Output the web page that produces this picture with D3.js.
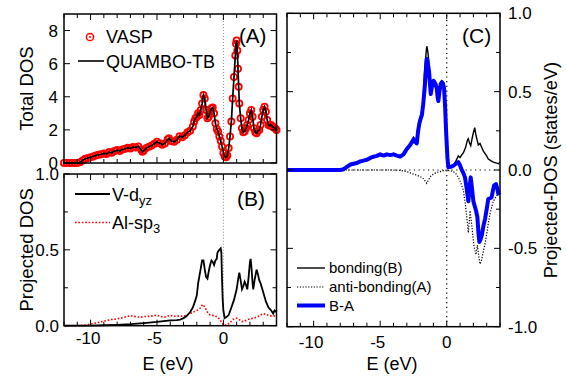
<!DOCTYPE html>
<html><head><meta charset="utf-8">
<script src="https://cdn.jsdelivr.net/npm/d3@7"></script>
<style>
body{margin:0;background:#fff;}
svg text{font-family:"Liberation Sans",Arial,sans-serif;fill:#000;}
</style></head>
<body><svg id="c" width="567" height="378"></svg>
<script>
// ---------- data ----------
const eDomain = [-12, 4];
const xTickLabels = [-10, -5, 0];
const totalTicks = [0, 2, 4, 6, 8];
const pdosTicks = [0.0, 0.5, 1.0];
const cTicks = [-1.0, -0.5, 0.0, 0.5, 1.0];

const totalDOS = [[-12,0],[-11.8,0],[-11.6,0],[-11.4,0],[-11.2,0],[-11.0,0],[-10.8,0.04],[-10.6,0.15],[-10.4,0.25],[-10.2,0.3],[-10.0,0.35],[-9.8,0.4],[-9.6,0.45],[-9.4,0.5],[-9.2,0.53],[-9.0,0.58],[-8.8,0.55],[-8.6,0.66],[-8.4,0.62],[-8.2,0.72],[-8.0,0.78],[-7.8,0.72],[-7.6,0.82],[-7.4,0.86],[-7.2,0.92],[-7.0,0.88],[-6.8,0.96],[-6.6,0.94],[-6.4,1.0],[-6.2,0.82],[-6.1,0.68],[-6.0,0.74],[-5.8,0.9],[-5.6,0.98],[-5.4,1.06],[-5.2,1.16],[-5.0,1.28],[-4.8,1.2],[-4.6,1.1],[-4.4,1.18],[-4.2,1.42],[-4.1,1.49],[-3.9,1.32],[-3.7,1.28],[-3.5,1.4],[-3.3,1.62],[-3.1,1.55],[-2.9,1.68],[-2.7,1.85],[-2.5,1.95],[-2.3,2.2],[-2.2,2.5],[-2.1,2.7],[-2.0,2.8],[-1.9,3.0],[-1.8,2.9],[-1.7,3.2],[-1.6,3.6],[-1.5,4.1],[-1.4,3.9],[-1.3,3.2],[-1.2,2.7],[-1.1,2.8],[-1.0,3.1],[-0.9,3.3],[-0.8,3.35],[-0.7,3.0],[-0.6,2.4],[-0.5,2.05],[-0.4,1.9],[-0.3,1.6],[-0.2,1.35],[-0.1,1.0],[0.0,0.6],[0.1,0.4],[0.2,0.34],[0.3,0.45],[0.4,0.9],[0.5,1.6],[0.6,2.5],[0.7,3.9],[0.8,5.2],[0.9,6.5],[0.95,7.2],[1.0,7.4],[1.05,6.8],[1.1,5.7],[1.15,4.6],[1.2,3.6],[1.3,2.7],[1.4,2.1],[1.5,1.85],[1.6,1.9],[1.7,2.1],[1.8,2.3],[1.9,2.6],[2.0,3.0],[2.1,3.2],[2.2,2.8],[2.3,2.1],[2.4,1.85],[2.5,1.8],[2.6,1.95],[2.7,2.0],[2.8,2.3],[2.9,2.8],[3.0,3.2],[3.1,3.4],[3.2,3.1],[3.3,2.6],[3.4,2.3],[3.5,2.25],[3.6,2.3],[3.7,2.2],[3.8,2.15],[3.9,2.1],[4.0,2.0]];

const vDyz = [[-12,0],[-10,0],[-9,0.003],[-8,0.006],[-7,0.01],[-6,0.017],[-5,0.025],[-4.5,0.03],[-4,0.035],[-3.5,0.037],[-3.25,0.04],[-3.0,0.05],[-2.75,0.065],[-2.5,0.09],[-2.3,0.12],[-2.1,0.17],[-2.0,0.2],[-1.9,0.28],[-1.8,0.33],[-1.7,0.38],[-1.6,0.43],[-1.5,0.43],[-1.4,0.37],[-1.3,0.32],[-1.2,0.31],[-1.1,0.36],[-1.0,0.40],[-0.9,0.43],[-0.8,0.42],[-0.7,0.40],[-0.6,0.43],[-0.5,0.44],[-0.45,0.48],[-0.4,0.49],[-0.3,0.50],[-0.2,0.51],[-0.15,0.48],[-0.1,0.3],[-0.05,0.17],[0.0,0.1],[0.1,0.05],[0.2,0.055],[0.4,0.07],[0.6,0.12],[0.8,0.17],[1.0,0.24],[1.1,0.3],[1.2,0.35],[1.3,0.3],[1.4,0.24],[1.5,0.26],[1.6,0.29],[1.7,0.27],[1.8,0.24],[1.9,0.32],[2.0,0.42],[2.05,0.44],[2.1,0.4],[2.2,0.28],[2.25,0.24],[2.35,0.3],[2.5,0.37],[2.6,0.34],[2.7,0.3],[2.8,0.28],[3.0,0.22],[3.2,0.16],[3.4,0.12],[3.6,0.1],[3.75,0.08],[3.85,0.1],[4.0,0.09]];

const alSp3 = [[-12,0],[-11,0],[-10.5,0.003],[-10,0.01],[-9.5,0.02],[-9,0.03],[-8.5,0.04],[-8,0.045],[-7.5,0.055],[-7,0.066],[-6.6,0.06],[-6.3,0.055],[-6,0.06],[-5.5,0.062],[-5,0.07],[-4.7,0.06],[-4.5,0.055],[-4.2,0.062],[-4,0.068],[-3.7,0.062],[-3.3,0.064],[-3,0.062],[-2.5,0.08],[-2.0,0.10],[-1.75,0.115],[-1.55,0.14],[-1.35,0.115],[-1.2,0.09],[-1.0,0.07],[-0.6,0.065],[-0.3,0.045],[-0.1,0.02],[0,0.005],[0.3,0.005],[0.5,0.02],[0.7,0.04],[1.0,0.05],[1.2,0.04],[1.4,0.027],[1.6,0.03],[1.8,0.04],[2.0,0.045],[2.3,0.05],[2.6,0.06],[2.8,0.07],[3.0,0.08],[3.2,0.075],[3.5,0.065],[4,0.065]];

const bonding = [[-12,0],[-8,0],[-7.75,0.003],[-7.5,0.015],[-7.25,0.027],[-7,0.035],[-6.75,0.04],[-6.5,0.05],[-6.25,0.055],[-6,0.06],[-5.75,0.07],[-5.5,0.08],[-5.25,0.09],[-5.0,0.1],[-4.75,0.09],[-4.5,0.105],[-4.25,0.1],[-4.0,0.105],[-3.75,0.095],[-3.5,0.09],[-3.25,0.1],[-3.0,0.125],[-2.75,0.155],[-2.6,0.18],[-2.5,0.21],[-2.4,0.2],[-2.3,0.19],[-2.15,0.28],[-2.05,0.325],[-1.95,0.35],[-1.85,0.37],[-1.75,0.5],[-1.65,0.65],[-1.55,0.75],[-1.5,0.79],[-1.43,0.76],[-1.35,0.7],[-1.28,0.6],[-1.2,0.5],[-1.1,0.55],[-1.0,0.57],[-0.92,0.56],[-0.85,0.54],[-0.75,0.52],[-0.63,0.485],[-0.5,0.54],[-0.37,0.57],[-0.25,0.56],[-0.18,0.54],[-0.1,0.4],[0.0,0.25],[0.08,0.08],[0.12,0.017],[0.3,0.02],[0.5,0.03],[0.7,0.06],[0.87,0.09],[1.0,0.08],[1.25,0.11],[1.4,0.14],[1.55,0.19],[1.62,0.2],[1.72,0.17],[1.8,0.155],[1.95,0.22],[2.1,0.27],[2.2,0.22],[2.37,0.16],[2.5,0.17],[2.75,0.12],[3.0,0.09],[3.12,0.07],[3.3,0.06],[3.5,0.05],[3.7,0.045],[3.87,0.04],[4,0.05]];

const antiBonding = [[-12,0],[-4,0],[-3.5,-0.002],[-3,-0.01],[-2.5,-0.026],[-2.2,-0.035],[-1.87,-0.047],[-1.7,-0.06],[-1.5,-0.085],[-1.35,-0.06],[-1.2,-0.04],[-1.0,-0.026],[-0.75,-0.015],[-0.5,-0.01],[-0.25,-0.005],[0,0],[0.5,-0.01],[0.7,-0.025],[0.87,-0.047],[1.05,-0.08],[1.25,-0.13],[1.4,-0.22],[1.5,-0.30],[1.62,-0.40],[1.7,-0.32],[1.75,-0.26],[1.85,-0.33],[1.95,-0.41],[2.05,-0.49],[2.2,-0.54],[2.3,-0.48],[2.4,-0.55],[2.5,-0.60],[2.6,-0.58],[2.7,-0.54],[2.85,-0.48],[3.0,-0.41],[3.12,-0.34],[3.25,-0.28],[3.4,-0.23],[3.5,-0.20],[3.7,-0.17],[3.87,-0.15],[4,-0.13]];

const bMinusA = [[-12,0],[-8,0],[-7.75,0.005],[-7.5,0.02],[-7.25,0.035],[-7,0.04],[-6.75,0.045],[-6.5,0.055],[-6.25,0.06],[-6,0.065],[-5.75,0.077],[-5.5,0.085],[-5.25,0.09],[-5.0,0.1],[-4.75,0.092],[-4.5,0.1],[-4.25,0.095],[-4,0.1],[-3.75,0.092],[-3.5,0.085],[-3.25,0.1],[-3.0,0.134],[-2.75,0.16],[-2.6,0.18],[-2.5,0.195],[-2.4,0.18],[-2.25,0.17],[-2.15,0.25],[-2.05,0.3],[-1.95,0.33],[-1.87,0.35],[-1.77,0.42],[-1.67,0.51],[-1.58,0.62],[-1.5,0.71],[-1.42,0.68],[-1.33,0.63],[-1.25,0.54],[-1.2,0.485],[-1.1,0.54],[-1.0,0.57],[-0.92,0.56],[-0.85,0.55],[-0.75,0.52],[-0.68,0.46],[-0.63,0.44],[-0.55,0.5],[-0.45,0.55],[-0.37,0.56],[-0.28,0.55],[-0.2,0.52],[-0.12,0.4],[-0.05,0.25],[0.05,0.08],[0.12,0.017],[0.3,0.02],[0.5,0.027],[0.7,0.04],[0.87,0.05],[1.0,0.03],[1.1,0.006],[1.25,-0.02],[1.37,-0.047],[1.5,-0.12],[1.62,-0.2],[1.7,-0.12],[1.8,-0.047],[1.9,-0.12],[2.0,-0.2],[2.1,-0.23],[2.2,-0.26],[2.3,-0.3],[2.38,-0.4],[2.45,-0.46],[2.55,-0.44],[2.65,-0.41],[2.75,-0.36],[2.88,-0.31],[3.0,-0.25],[3.12,-0.185],[3.25,-0.18],[3.37,-0.175],[3.47,-0.13],[3.55,-0.1],[3.7,-0.09],[3.8,-0.12],[3.87,-0.15],[4,-0.14]];

// ---------- drawing ----------
const svg = d3.select("#c");
const TICK = 17;

function frame(g, x, y, yMajor, yMinor) {
  const [x0, x1] = x.range(), [y0, y1] = y.range(); // y0 bottom
  const e1 = d3.range(eDomain[0], eDomain[1] + 0.001, 1);
  const tk = g.append("g").attr("stroke", "#000").attr("stroke-width", 1);
  e1.forEach(v => {
    const L = (v % 5 === 0) ? 6 : 4;
    tk.append("line").attr("x1", x(v)).attr("x2", x(v)).attr("y1", y0).attr("y2", y0 - L);
    tk.append("line").attr("x1", x(v)).attr("x2", x(v)).attr("y1", y1).attr("y2", y1 + L);
  });
  yMajor.concat(yMinor).forEach(v => {
    const L = yMajor.includes(v) ? 6 : 4;
    tk.append("line").attr("x1", x0).attr("x2", x0 + L).attr("y1", y(v)).attr("y2", y(v));
    tk.append("line").attr("x1", x1).attr("x2", x1 - L).attr("y1", y(v)).attr("y2", y(v));
  });
  g.append("rect").attr("x", x0).attr("y", y1).attr("width", x1 - x0).attr("height", y0 - y1)
    .attr("fill", "none").attr("stroke", "#000").attr("stroke-width", 1.5);
}

function lineGen(x, y) {
  return d3.line().x(d => x(d[0])).y(d => y(d[1]));
}

// Panel A
const xA = d3.scaleLinear().domain(eDomain).range([64, 276.5]);
const yA = d3.scaleLinear().domain([0, 9]).range([163, 14]);
const gA = svg.append("g");
gA.append("line").attr("x1", xA(0)).attr("x2", xA(0)).attr("y1", yA(0)).attr("y2", yA(9))
  .attr("stroke", "#888").attr("stroke-width", 1).attr("stroke-dasharray", "1,2");
gA.append("g").selectAll("circle").data(totalDOS).join("circle")
  .attr("cx", d => xA(d[0])).attr("cy", d => yA(d[1])).attr("r", 3.1)
  .attr("fill", "none").attr("stroke", "#ff0000").attr("stroke-width", 1.8);
gA.append("path").datum(totalDOS).attr("d", lineGen(xA, yA)).attr("fill", "none")
  .attr("stroke", "#000").attr("stroke-width", 1.7);
frame(gA, xA, yA, [0, 2, 4, 6, 8], []);
totalTicks.forEach(v => gA.append("text").attr("x", 58).attr("y", yA(v)).attr("dy", "0.35em")
  .attr("text-anchor", "end").attr("font-size", TICK).text(v));
gA.append("text").attr("transform", `translate(33,${(14 + 163) / 2}) rotate(-90)`)
  .attr("text-anchor", "middle").attr("font-size", 18.5).text("Total DOS");
// legend A
gA.append("circle").attr("cx", 90).attr("cy", 37).attr("r", 3.6).attr("fill", "none").attr("stroke", "#ff0000").attr("stroke-width", 1.5);
gA.append("circle").attr("cx", 90).attr("cy", 37).attr("r", 1).attr("fill", "#ff0000");
gA.append("text").attr("x", 106).attr("y", 43).attr("font-size", 18).text("VASP");
gA.append("line").attr("x1", 78).attr("x2", 104).attr("y1", 61).attr("y2", 61).attr("stroke", "#000").attr("stroke-width", 1.6);
gA.append("text").attr("x", 106).attr("y", 67.5).attr("font-size", 18).text("QUAMBO-TB");
gA.append("text").attr("x", 239).attr("y", 43).attr("font-size", 20.5).text("(A)");

// Panel B
const xB = d3.scaleLinear().domain(eDomain).range([64, 276.5]);
const yB = d3.scaleLinear().domain([0, 1]).range([325.7, 174]);
const gB = svg.append("g");
gB.append("line").attr("x1", xB(0)).attr("x2", xB(0)).attr("y1", yB(0)).attr("y2", yB(1))
  .attr("stroke", "#888").attr("stroke-width", 1).attr("stroke-dasharray", "1,2");
gB.append("path").datum(alSp3).attr("d", lineGen(xB, yB)).attr("fill", "none")
  .attr("stroke", "#ff0000").attr("stroke-width", 1.6).attr("stroke-dasharray", "1.6,1.8");
gB.append("path").datum(vDyz).attr("d", lineGen(xB, yB)).attr("fill", "none")
  .attr("stroke", "#000").attr("stroke-width", 1.8);
frame(gB, xB, yB, [0, 0.5, 1], [0.25, 0.75]);
pdosTicks.forEach(v => gB.append("text").attr("x", 59).attr("y", yB(v)).attr("dy", "0.35em")
  .attr("text-anchor", "end").attr("font-size", TICK).text(d3.format(".1f")(v)));
xTickLabels.forEach(v => gB.append("text").attr("x", xB(v) - (v < 0 ? 2.5 : 0)).attr("y", 344)
  .attr("text-anchor", "middle").attr("font-size", TICK).text(v < 0 ? "-" + Math.abs(v) : v));
gB.append("text").attr("x", 168).attr("y", 370).attr("text-anchor", "middle").attr("font-size", 18).text("E (eV)");
gB.append("text").attr("transform", `translate(33,${(174 + 325.7) / 2}) rotate(-90)`)
  .attr("text-anchor", "middle").attr("font-size", 18.5).text("Projected DOS");
gB.append("line").attr("x1", 75).attr("x2", 110).attr("y1", 194).attr("y2", 194).attr("stroke", "#000").attr("stroke-width", 1.8);
const t1 = gB.append("text").attr("x", 112).attr("y", 200.5).attr("font-size", 18);
t1.append("tspan").text("V-d");
t1.append("tspan").attr("font-size", 13).attr("dy", 4).text("yz");
gB.append("line").attr("x1", 75).attr("x2", 110).attr("y1", 222.5).attr("y2", 222.5).attr("stroke", "#ff0000").attr("stroke-width", 1.6).attr("stroke-dasharray", "1.6,1.8");
const t2 = gB.append("text").attr("x", 112).attr("y", 229).attr("font-size", 18);
t2.append("tspan").text("Al-sp");
t2.append("tspan").attr("font-size", 13).attr("dy", 4).text("3");
gB.append("text").attr("x", 237).attr("y", 206).attr("font-size", 21).text("(B)");

// Panel C
const xC = d3.scaleLinear().domain(eDomain).range([287, 500]);
const yC = d3.scaleLinear().domain([-1, 1]).range([326.7, 13.3]);
const gC = svg.append("g");
gC.append("line").attr("x1", xC(0)).attr("x2", xC(0)).attr("y1", yC(-1)).attr("y2", yC(1))
  .attr("stroke", "#000").attr("stroke-width", 1.2).attr("stroke-dasharray", "1.2,3.5");
gC.append("line").attr("x1", xC(-12)).attr("x2", xC(4)).attr("y1", yC(0)).attr("y2", yC(0))
  .attr("stroke", "#000").attr("stroke-width", 1.2).attr("stroke-dasharray", "1.2,3.5");
gC.append("path").datum(antiBonding).attr("d", lineGen(xC, yC)).attr("fill", "none")
  .attr("stroke", "#000").attr("stroke-width", 1.2).attr("stroke-dasharray", "1.2,1.6");
gC.append("path").datum(bonding).attr("d", lineGen(xC, yC)).attr("fill", "none")
  .attr("stroke", "#000").attr("stroke-width", 1.4);
gC.append("path").datum(bMinusA).attr("d", lineGen(xC, yC)).attr("fill", "none")
  .attr("stroke", "#0000ff").attr("stroke-width", 4).attr("stroke-linejoin", "round");
frame(gC, xC, yC, [-1, -0.5, 0, 0.5, 1], [-0.75, -0.25, 0.25, 0.75]);
cTicks.forEach(v => gC.append("text").attr("x", 508).attr("y", yC(v)).attr("dy", "0.35em")
  .attr("font-size", TICK).text((v < 0 ? "-" : "") + d3.format(".1f")(Math.abs(v))));
xTickLabels.forEach(v => gC.append("text").attr("x", xC(v) - (v < 0 ? 2.5 : 0)).attr("y", 348)
  .attr("text-anchor", "middle").attr("font-size", TICK).text(v < 0 ? "-" + Math.abs(v) : v));
gC.append("text").attr("x", 392).attr("y", 370).attr("text-anchor", "middle").attr("font-size", 18).text("E (eV)");
gC.append("text").attr("transform", `translate(557,170) rotate(-90)`)
  .attr("text-anchor", "middle").attr("font-size", 18.3).text("Projected-DOS (states/eV)");
gC.append("text").attr("x", 462).attr("y", 43).attr("font-size", 21).text("(C)");
const legC = [
  {y: 268, label: "bonding(B)", stroke: "#000", w: 1.4, dash: null},
  {y: 287, label: "anti-bonding(A)", stroke: "#000", w: 1.2, dash: "1.2,1.6"},
  {y: 305.5, label: "B-A", stroke: "#0000ff", w: 4, dash: null}
];
legC.forEach(d => {
  gC.append("line").attr("x1", 297).attr("x2", 325).attr("y1", d.y).attr("y2", d.y)
    .attr("stroke", d.stroke).attr("stroke-width", d.w).attr("stroke-dasharray", d.dash);
  gC.append("text").attr("x", 329).attr("y", d.y).attr("dy", "0.35em").attr("font-size", 15).text(d.label);
});
</script></body></html>
